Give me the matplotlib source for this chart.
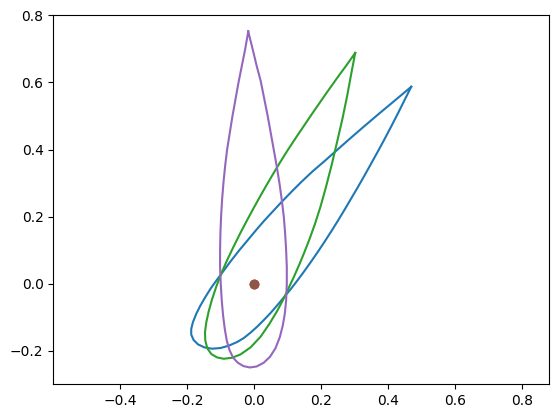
import numpy as np
import matplotlib
matplotlib.use('Agg')
import matplotlib.pyplot as plt

# orbit outlines (x, y), each closed at the tip
blue_x = [0.469, 0.450, 0.430, 0.410, 0.390, 0.370, 0.350, 0.330, 0.310, 0.290,
          0.270, 0.250, 0.230, 0.210, 0.190, 0.170, 0.150, 0.130, 0.110, 0.090,
          0.070, 0.050, 0.030, 0.010, -0.010, -0.030, -0.050, -0.075, -0.100,
          -0.125, -0.148, -0.167, -0.180, -0.187, -0.187, -0.182, -0.172, -0.160,
          -0.145, -0.128, -0.110, -0.090, -0.070, -0.045, -0.020, 0.005, 0.030,
          0.055, 0.080, 0.110, 0.140, 0.175, 0.210, 0.245, 0.280, 0.325, 0.372,
          0.420, 0.469]
blue_y = [0.587, 0.549, 0.509, 0.470, 0.432, 0.395, 0.359, 0.323, 0.288, 0.254,
          0.220, 0.187, 0.155, 0.124, 0.094, 0.065, 0.037, 0.010, -0.016, -0.040,
          -0.064, -0.087, -0.108, -0.128, -0.146, -0.162, -0.174, -0.185, -0.192,
          -0.194, -0.190, -0.181, -0.168, -0.152, -0.135, -0.115, -0.090, -0.066,
          -0.040, -0.013, 0.012, 0.039, 0.066, 0.098, 0.128, 0.158, 0.187,
          0.214, 0.241, 0.272, 0.302, 0.335, 0.365, 0.396, 0.427, 0.466, 0.506,
          0.546, 0.587]

green_x = [0.302, 0.290, 0.278, 0.264, 0.249, 0.232, 0.214, 0.198, 0.182, 0.165,
           0.149, 0.134, 0.119, 0.104, 0.089, 0.069, 0.046, 0.020, -0.010, -0.040,
           -0.065, -0.090, -0.110, -0.127, -0.139, -0.145, -0.146, -0.142, -0.135,
           -0.125, -0.112, -0.097, -0.080, -0.060, -0.040, -0.020, 0.000, 0.020,
           0.040, 0.060, 0.080, 0.100, 0.125, 0.150, 0.175, 0.200, 0.218, 0.250,
           0.275, 0.302]
green_y = [0.688, 0.625, 0.560, 0.492, 0.427, 0.355, 0.285, 0.228, 0.178, 0.131,
           0.090, 0.054, 0.020, -0.012, -0.044, -0.082, -0.120, -0.158, -0.190, -0.211,
           -0.221, -0.224, -0.220, -0.210, -0.193, -0.170, -0.145, -0.115, -0.083,
           -0.047, -0.008, 0.031, 0.070, 0.112, 0.152, 0.190, 0.227, 0.263,
           0.298, 0.332, 0.365, 0.397, 0.435, 0.472, 0.509, 0.545, 0.571, 0.616,
           0.650, 0.688]

purple_x = [-0.017, -0.004, 0.008, 0.020, 0.031, 0.041, 0.050, 0.059, 0.068, 0.076,
            0.083, 0.089, 0.093, 0.096, 0.098, 0.098, 0.096, 0.092, 0.086, 0.077,
            0.064, 0.048, 0.029, 0.008, -0.012, -0.031, -0.048, -0.062, -0.073,
            -0.081, -0.087, -0.092, -0.096, -0.099, -0.101, -0.101, -0.100, -0.098,
            -0.095, -0.091, -0.086, -0.080, -0.072, -0.064, -0.055, -0.046, -0.036,
            -0.026, -0.017]
purple_y = [0.752, 0.700, 0.650, 0.605, 0.550, 0.500, 0.450, 0.400, 0.350, 0.300,
            0.250, 0.200, 0.150, 0.100, 0.050, 0.000, -0.050, -0.090, -0.125, -0.160,
            -0.193, -0.218, -0.236, -0.247, -0.250, -0.246, -0.236, -0.221, -0.198,
            -0.170, -0.135, -0.095, -0.050, 0.000, 0.050, 0.100, 0.150, 0.200,
            0.250, 0.300, 0.350, 0.400, 0.450, 0.500, 0.550, 0.600, 0.650,
            0.700, 0.752]

centre = [0.0, 0.0]

fig, ax = plt.subplots(figsize=(6.4, 4.8), dpi=100)

ax.plot(blue_x, blue_y)
ax.plot(centre[0], centre[1], 'o')
ax.plot(green_x, green_y)
ax.plot(centre[0], centre[1], 'o')
ax.plot(purple_x, purple_y)
ax.plot(centre[0], centre[1], 'o')

ax.axis('equal')

plt.savefig('out.png', dpi=100, bbox_inches='tight')
